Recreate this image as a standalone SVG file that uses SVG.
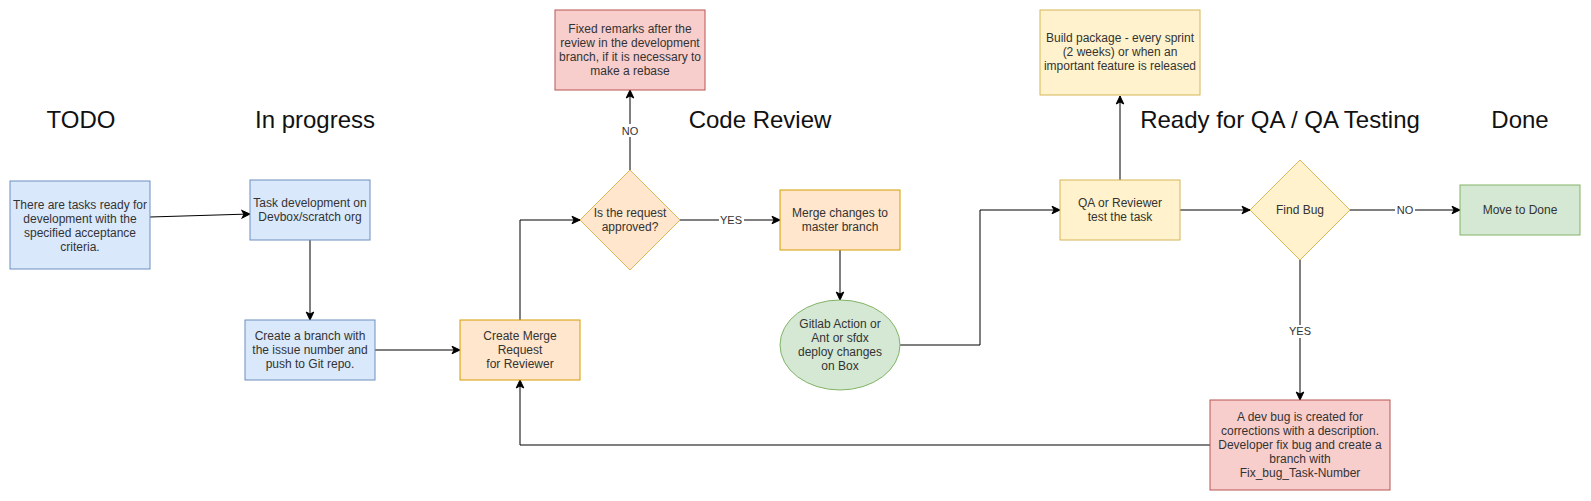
<svg xmlns="http://www.w3.org/2000/svg" width="1591" height="501" viewBox="0 0 1591 501">
<defs>
<marker id="arr" markerUnits="userSpaceOnUse" markerWidth="10" markerHeight="10" viewBox="0 0 10 10" refX="9" refY="5" orient="auto">
<path d="M1,1.2 L9,5 L1,8.8 L3,5 Z" fill="#000" stroke="#000" stroke-width="1"/>
</marker>
</defs>
<style>
.t{font-family:"Liberation Sans",Arial,sans-serif;font-size:12px;fill:#333;text-anchor:middle}
.h{font-family:"Liberation Sans",Arial,sans-serif;font-size:24px;fill:#111;text-anchor:middle}
.lbl{font-family:"Liberation Sans",Arial,sans-serif;font-size:11px;fill:#333;text-anchor:middle}
.lb{fill:#fff}
.blue{fill:#dae8fc;stroke:#6c8ebf;stroke-width:1}
.orange{fill:#ffe6cc;stroke:#d79b00;stroke-width:1}
.red{fill:#f8cecc;stroke:#b85450;stroke-width:1}
.yellow{fill:#fff2cc;stroke:#d6b656;stroke-width:1}
.green{fill:#d5e8d4;stroke:#82b366;stroke-width:1}
.e{fill:none;stroke:#000;stroke-width:1;marker-end:url(#arr)}
</style>
<rect width="1591" height="501" fill="#fff"/>
<g id="titles">
<text class="h" x="81" y="128">TODO</text>
<text class="h" x="315" y="128">In progress</text>
<text class="h" x="760" y="128">Code Review</text>
<text class="h" x="1280" y="128">Ready for QA / QA Testing</text>
<text class="h" x="1520" y="128">Done</text>
</g>
<g id="connectors">
<path class="e" d="M150,217 L250,214"/>
<path class="e" d="M310,240 L310,320"/>
<path class="e" d="M375,350 L460,350"/>
<path class="e" d="M520,320 L520,220 L580,220"/>
<path class="e" d="M630,170 L630,90"/>
<path class="e" d="M680,220 L780,220"/>
<path class="e" d="M840,250 L840,300"/>
<path class="e" d="M900,345 L980,345 L980,210 L1060,210"/>
<path class="e" d="M1120,180 L1120,96"/>
<path class="e" d="M1180,210 L1250,210"/>
<path class="e" d="M1350,210 L1460,210"/>
<path class="e" d="M1300,260 L1300,400"/>
<path class="e" d="M1210,445 L520,445 L520,380"/>
<rect class="lb" x="620" y="124" width="20" height="13"/>
<text class="lbl" x="630" y="135">NO</text>
<rect class="lb" x="719" y="214" width="25" height="13"/>
<text class="lbl" x="731" y="224">YES</text>
<rect class="lb" x="1395" y="204" width="20" height="13"/>
<text class="lbl" x="1405" y="214">NO</text>
<rect class="lb" x="1288" y="325" width="25" height="13"/>
<text class="lbl" x="1300" y="335">YES</text>
</g>
<g id="n1">
<rect class="blue" x="10" y="181" width="140" height="88"/>
<text class="t" x="80" y="209">There are tasks ready for</text>
<text class="t" x="80" y="223">development with the</text>
<text class="t" x="80" y="237">specified acceptance</text>
<text class="t" x="80" y="251">criteria.</text>
</g>
<g id="n2">
<rect class="blue" x="250" y="180" width="120" height="60"/>
<text class="t" x="310" y="207">Task development on</text>
<text class="t" x="310" y="221">Devbox/scratch org</text>
</g>
<g id="n3">
<rect class="blue" x="245" y="320" width="130" height="60"/>
<text class="t" x="310" y="340">Create a branch with</text>
<text class="t" x="310" y="354">the issue number and</text>
<text class="t" x="310" y="368">push to Git repo.</text>
</g>
<g id="n4">
<rect class="orange" x="460" y="320" width="120" height="60"/>
<text class="t" x="520" y="340">Create Merge</text>
<text class="t" x="520" y="354">Request</text>
<text class="t" x="520" y="368">for Reviewer</text>
</g>
<g id="n5">
<path d="M630,170 L680,220 L630,270 L580,220 Z" fill="#ffe6cc" stroke="#d6b656" stroke-width="1"/>
<text class="t" x="630" y="217">Is the request</text>
<text class="t" x="630" y="231">approved?</text>
</g>
<g id="n6">
<rect class="red" x="555" y="10" width="150" height="80"/>
<text class="t" x="630" y="33">Fixed remarks after the</text>
<text class="t" x="630" y="47">review in the development</text>
<text class="t" x="630" y="61">branch, if it is necessary to</text>
<text class="t" x="630" y="75">make a rebase</text>
</g>
<g id="n7">
<rect class="orange" x="780" y="190" width="120" height="60"/>
<text class="t" x="840" y="217">Merge changes to</text>
<text class="t" x="840" y="231">master branch</text>
</g>
<g id="n8">
<ellipse class="green" cx="840" cy="345" rx="60" ry="45"/>
<text class="t" x="840" y="328">Gitlab Action or</text>
<text class="t" x="840" y="342">Ant or sfdx</text>
<text class="t" x="840" y="356">deploy changes</text>
<text class="t" x="840" y="370">on Box</text>
</g>
<g id="n9">
<rect class="yellow" x="1060" y="180" width="120" height="60"/>
<text class="t" x="1120" y="207">QA or Reviewer</text>
<text class="t" x="1120" y="221">test the task</text>
</g>
<g id="n10">
<rect class="yellow" x="1040" y="10" width="160" height="85"/>
<text class="t" x="1120" y="42">Build package - every sprint</text>
<text class="t" x="1120" y="56">(2 weeks) or when an</text>
<text class="t" x="1120" y="70">important feature is released</text>
</g>
<g id="n11">
<path d="M1300,160 L1350,210 L1300,260 L1250,210 Z" class="yellow"/>
<text class="t" x="1300" y="214">Find Bug</text>
</g>
<g id="n12">
<rect class="green" x="1460" y="185" width="120" height="50"/>
<text class="t" x="1520" y="214">Move to Done</text>
</g>
<g id="n13">
<rect class="red" x="1210" y="400" width="180" height="90"/>
<text class="t" x="1300" y="421">A dev bug is created for</text>
<text class="t" x="1300" y="435">corrections with a description.</text>
<text class="t" x="1300" y="449">Developer fix bug and create a</text>
<text class="t" x="1300" y="463">branch with</text>
<text class="t" x="1300" y="477">Fix_bug_Task-Number</text>
</g>
</svg>
